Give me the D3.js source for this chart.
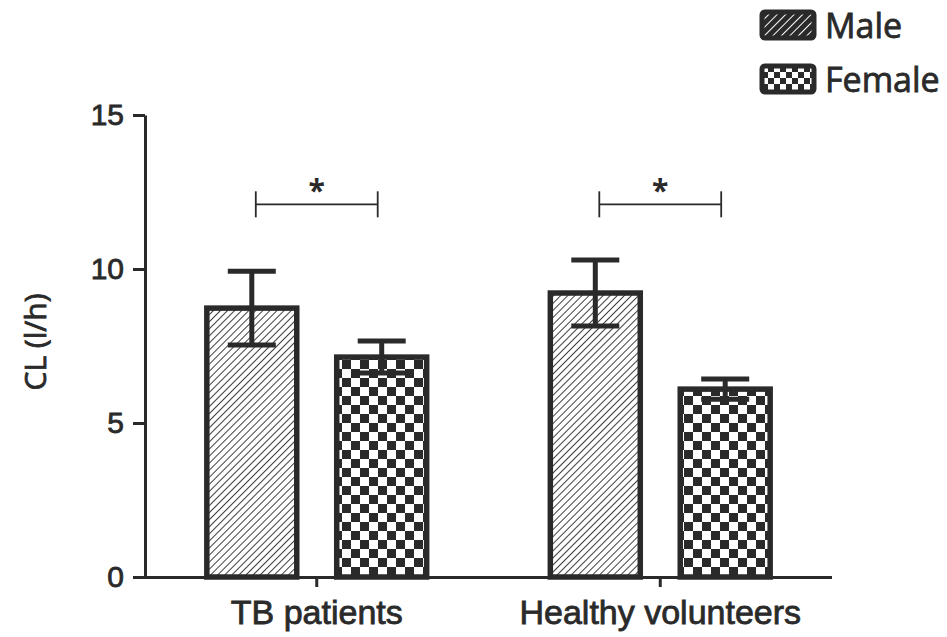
<!DOCTYPE html>
<html>
<head>
<meta charset="utf-8">
<script src="https://cdn.jsdelivr.net/npm/d3@7"></script>
<style>
  html, body { margin: 0; padding: 0; background: #fff; }
  svg { display: block; font-family: "Open Sans", "Noto Sans", sans-serif; }
</style>
</head>
<body>
<svg id="chart" width="947" height="637"></svg>
<script>
// ---- data ----
const categories = ["TB patients", "Healthy volunteers"];
const groups = ["Male", "Female"];
const maleMeans = [8.73, 9.22];
const maleErrors = [1.2, 1.07];
const femaleMeans = [7.14, 6.10];
const femaleErrors = [0.52, 0.33];
const yTicks = [0, 5, 10, 15];
const significance = ["*", "*"];
const yLabel = "CL (l/h)";

const seriesValues = { Male: maleMeans, Female: femaleMeans };
const seriesErrors = { Male: maleErrors, Female: femaleErrors };

const svg = d3.select("#chart");
const ink = "#2a2a2a";

const margin = { left: 145, right: 115, top: 115, bottom: 60 };
const W = 947, H = 637;
const x0 = d3.scaleBand().domain(categories).range([margin.left, W - margin.right])
  .paddingInner(0.36).paddingOuter(0.18);
const x1 = d3.scaleBand().domain(groups).range([0, x0.bandwidth()])
  .paddingInner(0.3077).paddingOuter(0);
const y = d3.scaleLinear().domain([0, 15]).range([H - margin.bottom, margin.top]);

function styleText(sel, size) {
  sel.attr("font-size", size).attr("font-weight", 400).attr("fill", ink)
    .attr("stroke", ink).attr("stroke-width", 0.8).attr("paint-order", "stroke");
}

// ---- patterns ----
const defs = svg.append("defs");
const hatch = defs.append("pattern").attr("id", "hatch").attr("patternUnits", "userSpaceOnUse")
  .attr("width", 5).attr("height", 5).attr("patternTransform", "rotate(45)");
hatch.append("rect").attr("width", 5).attr("height", 5).attr("fill", "#fff");
hatch.append("line").attr("x1", 0).attr("y1", 0).attr("x2", 0).attr("y2", 5)
  .attr("stroke", ink).attr("stroke-width", 1.8);

const checker = defs.append("pattern").attr("id", "checker").attr("patternUnits", "userSpaceOnUse")
  .attr("width", 18).attr("height", 18);
checker.append("rect").attr("width", 18).attr("height", 18).attr("fill", "#fff");
checker.append("rect").attr("width", 9).attr("height", 9).attr("fill", ink);
checker.append("rect").attr("x", 9).attr("y", 9).attr("width", 9).attr("height", 9).attr("fill", ink);

const hatchL = defs.append("pattern").attr("id", "hatchL").attr("patternUnits", "userSpaceOnUse")
  .attr("width", 6).attr("height", 6).attr("patternTransform", "rotate(45)");
hatchL.append("rect").attr("width", 6).attr("height", 6).attr("fill", ink);
hatchL.append("line").attr("x1", 0).attr("y1", 0).attr("x2", 0).attr("y2", 6)
  .attr("stroke", "#fff").attr("stroke-width", 2);

const checkL = defs.append("pattern").attr("id", "checkL").attr("patternUnits", "userSpaceOnUse")
  .attr("width", 12).attr("height", 12);
checkL.append("rect").attr("width", 12).attr("height", 12).attr("fill", ink);
checkL.append("rect").attr("width", 6).attr("height", 6).attr("fill", "#fff");
checkL.append("rect").attr("x", 6).attr("y", 6).attr("width", 6).attr("height", 6).attr("fill", "#fff");

const fills = { Male: "url(#hatch)", Female: "url(#checker)" };
const legendFills = { Male: "url(#hatchL)", Female: "url(#checkL)" };

// ---- bars ----
const barData = [];
categories.forEach((c, i) => groups.forEach(g => barData.push({
  cat: c, group: g, value: seriesValues[g][i], err: seriesErrors[g][i]
})));

const gBars = svg.append("g");
gBars.selectAll("g.bar").data(barData).join("g").attr("class", "bar").each(function(d) {
  const g = d3.select(this);
  const bx = x0(d.cat) + x1(d.group);
  const bw = x1.bandwidth();
  const cx = bx + bw / 2;
  g.append("rect").attr("x", bx).attr("y", y(d.value)).attr("width", bw)
    .attr("height", y(0) - y(d.value)).attr("fill", fills[d.group])
    .attr("stroke", ink).attr("stroke-width", 5.5);
  g.append("line").attr("x1", cx).attr("x2", cx).attr("y1", y(d.value + d.err)).attr("y2", y(d.value - d.err))
    .attr("stroke", ink).attr("stroke-width", 5);
  [d.value + d.err, d.value - d.err].forEach(v => {
    g.append("line").attr("x1", cx - 24).attr("x2", cx + 24).attr("y1", y(v)).attr("y2", y(v))
      .attr("stroke", ink).attr("stroke-width", 5);
  });
});

// ---- axes ----
const yAxis = svg.append("g").attr("transform", `translate(${margin.left},0)`)
  .call(d3.axisLeft(y).tickValues(yTicks).tickSize(12).tickSizeOuter(0).tickPadding(9));
yAxis.selectAll("path, line").attr("stroke", ink).attr("stroke-width", 3);
styleText(yAxis.selectAll("text"), 30);

const xAxis = svg.append("g").attr("transform", `translate(0,${y(0)})`)
  .call(d3.axisBottom(x0).tickSize(10).tickSizeOuter(0).tickPadding(13));
xAxis.select("path.domain").attr("d", `M${margin.left - 1},0.5H${W - margin.right}`);
xAxis.selectAll("path, line").attr("stroke", ink).attr("stroke-width", 3);
styleText(xAxis.selectAll("text"), 34);

// y label
styleText(svg.append("text").attr("transform", `translate(46,342) rotate(-90)`)
  .attr("text-anchor", "middle").text(yLabel), 30);

// ---- significance brackets ----
categories.forEach((c, i) => {
  const xa = x0(c) + x1("Male") + x1.bandwidth() / 2 + 4;
  const xb = x0(c) + x1("Female") + x1.bandwidth() / 2 - 4;
  const by = y(12.1);
  const g = svg.append("g").attr("stroke", ink).attr("stroke-width", 1.8);
  g.append("line").attr("x1", xa).attr("x2", xb).attr("y1", by).attr("y2", by);
  g.append("line").attr("x1", xa).attr("x2", xa).attr("y1", by - 13).attr("y2", by + 13);
  g.append("line").attr("x1", xb).attr("x2", xb).attr("y1", by - 13).attr("y2", by + 13);
  svg.append("text").attr("x", (xa + xb) / 2).attr("y", by - 3).attr("text-anchor", "middle")
    .attr("font-size", 30).attr("font-weight", 700).attr("fill", ink).text(significance[i]);
});

// ---- legend ----
const legend = svg.append("g").attr("transform", "translate(762,12)");
groups.forEach((g, i) => {
  const row = legend.append("g").attr("transform", `translate(0,${i * 54})`);
  row.append("rect").attr("x", 0).attr("y", 0).attr("width", 52).attr("height", 26).attr("rx", 3)
    .attr("fill", legendFills[g]).attr("stroke", ink).attr("stroke-width", 5);
  styleText(row.append("text").attr("x", 63).attr("y", 26).text(g), 34);
});
</script>
</body>
</html>
